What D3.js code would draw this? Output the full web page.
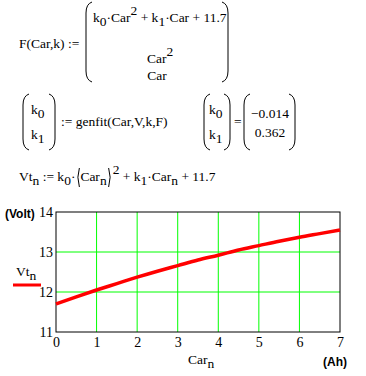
<!DOCTYPE html>
<html>
<head>
<meta charset="utf-8">
<script src="https://cdn.jsdelivr.net/npm/d3@7"></script>
<style>
  body { margin: 0; background: #fff; }
  svg { display: block; }
  .m { font-family: "Liberation Serif", "DejaVu Serif", serif; font-size: 13.5px; fill: #000; white-space: pre; }
  .unit { font-family: "Liberation Sans", Arial, sans-serif; font-size: 12px; font-weight: bold; fill: #000; }
  .tick text { font-family: "Liberation Serif", "DejaVu Serif", serif; font-size: 14px; fill: #000; }
</style>
</head>
<body>
<div id="chart"></div>
<script>
// values
var carN = [0, 0.5, 1, 1.5, 2, 2.5, 3, 3.5, 4, 4.5, 5, 5.5, 6, 6.5, 7];
var vtN  = [11.70, 11.88, 12.05, 12.21, 12.37, 12.52, 12.66, 12.80, 12.92, 13.05, 13.16, 13.27, 13.37, 13.46, 13.55];
var xTicks = [0, 1, 2, 3, 4, 5, 6, 7];
var yTicks = [11, 12, 13, 14];
var fitK = ["\u22120.014", "0.362"];

var W = 366, H = 376;
var svg = d3.select("#chart").append("svg")
    .attr("width", W)
    .attr("height", H);

// ---- math text helpers ----
function mtext(x, y, anchor) {
  return svg.append("text").attr("class", "m")
      .attr("xml:space", "preserve")
      .attr("x", x).attr("y", y)
      .attr("text-anchor", anchor || "start");
}
// lay out pieces left to right: [text, "n"|"sub"|"sup"]
function seq(x, y, parts) {
  parts.forEach(function(p) {
    var dy = p[1] === "sub" ? 4 : p[1] === "sup" ? -7 : 0;
    var t = mtext(x, y + dy).text(p[0]);
    x += t.node().getComputedTextLength();
  });
  return x;
}
function paren(x0, x1, top, bot) {
  var r = 7;
  svg.append("path")
      .attr("d", "M" + (x0 + 6) + "," + top + " Q" + x0 + "," + (top + 2) + " " + x0 + "," + (top + r + 4) +
                 " L" + x0 + "," + (bot - r - 4) + " Q" + x0 + "," + (bot - 2) + " " + (x0 + 6) + "," + bot)
      .attr("fill", "none").attr("stroke", "#000");
  svg.append("path")
      .attr("d", "M" + (x1 - 6) + "," + top + " Q" + x1 + "," + (top + 2) + " " + x1 + "," + (top + r + 4) +
                 " L" + x1 + "," + (bot - r - 4) + " Q" + x1 + "," + (bot - 2) + " " + (x1 - 6) + "," + bot)
      .attr("fill", "none").attr("stroke", "#000");
}

// F(Car,k) := ( ... )
mtext(19, 48).text("F(Car,k) :=");
paren(86, 228, 2, 82);
seq(93, 22, [["k", "n"], ["0", "sub"], ["\u00b7Car", "n"], ["2", "sup"], [" + k", "n"], ["1", "sub"], ["\u00b7Car + 11.7", "n"]]);
seq(147, 63, [["Car", "n"], ["2", "sup"]]);
mtext(157, 80, "middle").text("Car");

// (k0 k1) := genfit(...)
paren(23, 55, 94, 150);
seq(31, 114, [["k", "n"], ["0", "sub"]]);
seq(31, 139, [["k", "n"], ["1", "sub"]]);
mtext(61, 126).text(":= genfit(Car,V,k,F)");

paren(204, 230, 94, 150);
seq(209, 114, [["k", "n"], ["0", "sub"]]);
seq(209, 139, [["k", "n"], ["1", "sub"]]);
mtext(234, 126).text("=");
paren(244, 295, 94, 150);
mtext(270, 118, "middle").text(fitK[0]);
mtext(270, 137, "middle").text(fitK[1]);

// Vt_n := k0·(Car_n)^2 + k1·Car_n + 11.7
var vx = seq(19, 181, [["Vt", "n"], ["n", "sub"], [" := k", "n"], ["0", "sub"], ["\u00b7", "n"]]);
var p0 = vx + 1;
vx = seq(vx + 5, 181, [["Car", "n"], ["n", "sub"]]);
var p1 = vx + 2;
svg.append("path")
    .attr("d", "M" + (p0 + 3) + ",168 Q" + p0 + ",177 " + (p0 + 3) + ",187" +
               " M" + p1 + ",168 Q" + (p1 + 3) + ",177 " + p1 + ",187")
    .attr("fill", "none").attr("stroke", "#000");
seq(p1 + 4, 181, [["2", "sup"], [" + k", "n"], ["1", "sub"], ["\u00b7Car", "n"], ["n", "sub"], [" + 11.7", "n"]]);

// ---- plot ----
var x = d3.scaleLinear().domain([0, 7]).range([56, 340]);
var y = d3.scaleLinear().domain([11, 14]).range([332, 212]);

// grid
svg.append("g").selectAll("line.gx")
    .data(xTicks.slice(1, -1))
    .enter().append("line")
    .attr("x1", function(d) { return x(d); })
    .attr("x2", function(d) { return x(d); })
    .attr("y1", y(11)).attr("y2", y(14))
    .attr("stroke", "#00ff00");
svg.append("g").selectAll("line.gy")
    .data(yTicks.slice(1, -1))
    .enter().append("line")
    .attr("x1", x(0)).attr("x2", x(7))
    .attr("y1", function(d) { return y(d); })
    .attr("y2", function(d) { return y(d); })
    .attr("stroke", "#00ff00");

// border
svg.append("rect")
    .attr("x", x(0)).attr("y", y(14))
    .attr("width", x(7) - x(0)).attr("height", y(11) - y(14))
    .attr("fill", "none").attr("stroke", "#000");

// axes labels
var xAxis = d3.axisBottom(x).tickValues(xTicks).tickSize(0).tickPadding(5).tickFormat(d3.format("d"));
svg.append("g").attr("transform", "translate(0," + y(11) + ")").call(xAxis)
    .call(function(g) { g.select(".domain").remove(); });
var yAxis = d3.axisLeft(y).tickValues(yTicks).tickSize(0).tickPadding(3).tickFormat(d3.format("d"));
svg.append("g").attr("transform", "translate(" + x(0) + ",0)").call(yAxis)
    .call(function(g) { g.select(".domain").remove(); });
svg.selectAll(".tick text").attr("font-family", "Liberation Serif, DejaVu Serif, serif");

// curve
var line = d3.line()
    .x(function(d, i) { return x(carN[i]); })
    .y(function(d) { return y(d); })
    .curve(d3.curveMonotoneX);
svg.append("path")
    .datum(vtN)
    .attr("d", line)
    .attr("fill", "none")
    .attr("stroke", "#ff0000")
    .attr("stroke-width", 3.5);

// legend + units
svg.append("text").attr("class", "unit").attr("x", 5).attr("y", 218).text("(Volt)");
seq(16, 276, [["Vt", "n"], ["n", "sub"]]);
svg.append("line").attr("x1", 13).attr("x2", 41).attr("y1", 285).attr("y2", 285)
    .attr("stroke", "#ff0000").attr("stroke-width", 3);
seq(188, 364, [["Car", "n"], ["n", "sub"]]);
svg.append("text").attr("class", "unit").attr("x", 323).attr("y", 366).text("(Ah)");
</script>
</body>
</html>
